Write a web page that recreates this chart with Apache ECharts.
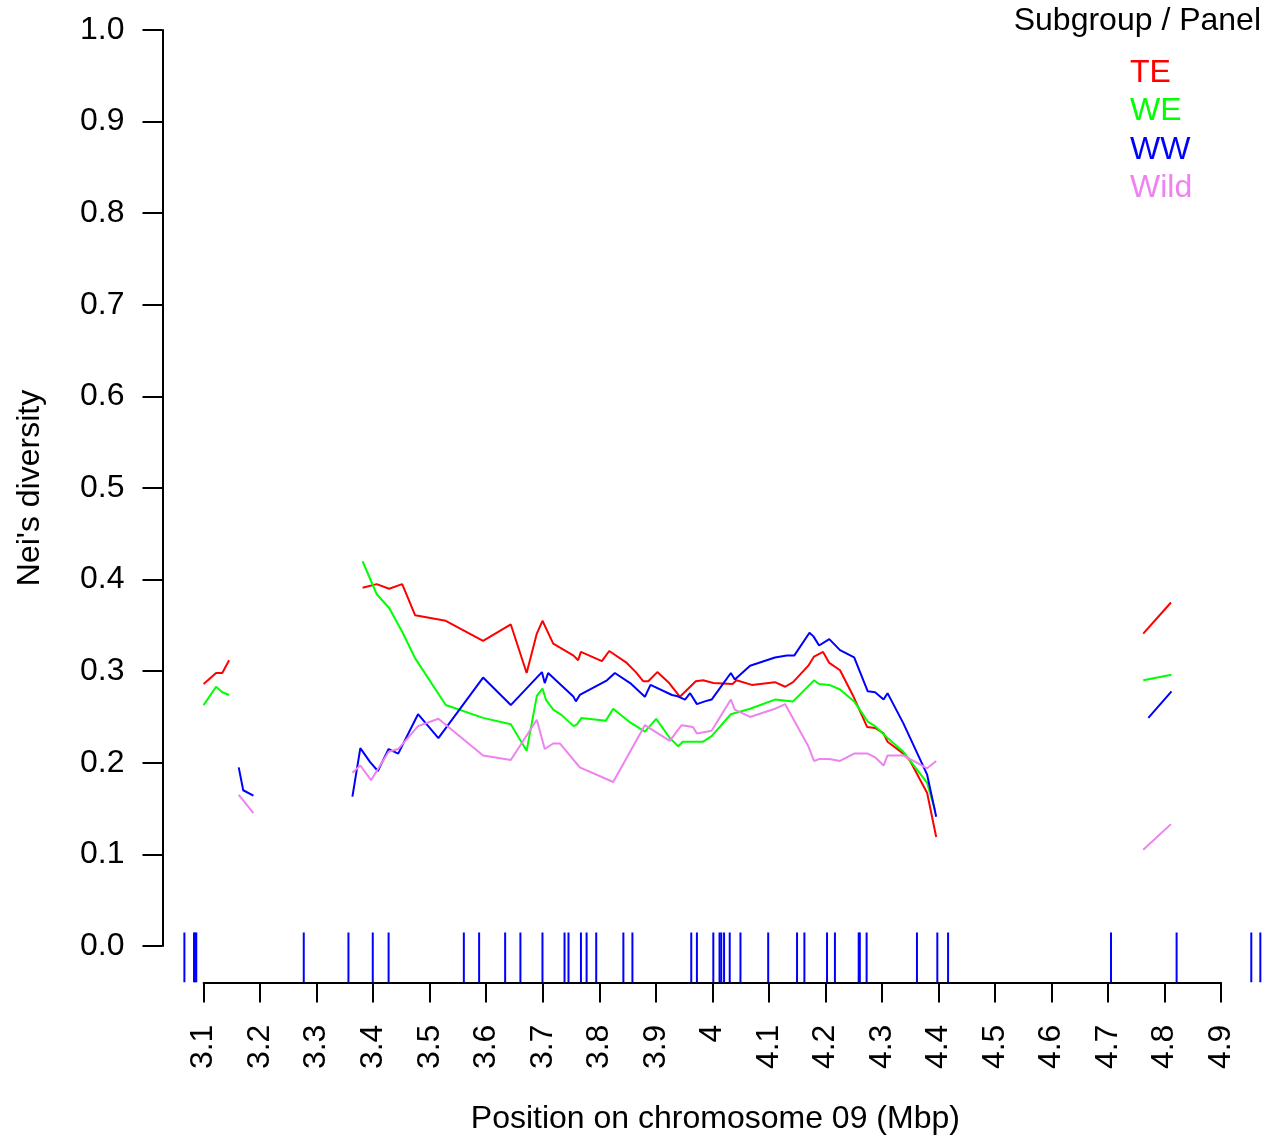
<!DOCTYPE html>
<html><head><meta charset="utf-8">
<script src="https://cdn.jsdelivr.net/npm/echarts@6/dist/echarts.min.js"></script>
<style>html,body{margin:0;padding:0;background:#fff}#c{width:1269px;height:1142px}</style>
</head><body><div id="c"></div>
<script>
// Positions (Mbp) and Nei's diversity per subgroup; null = gap
const teX = [3.100,3.122,3.133,3.145,null,
  3.381,3.406,3.428,3.451,3.474,3.528,3.594,3.643,3.671,3.689,3.699,3.718,3.754,3.762,3.767,3.804,3.817,3.848,3.864,3.877,3.886,3.902,3.923,3.942,3.970,3.983,4.001,4.035,4.042,4.069,4.110,4.128,4.142,4.169,4.179,4.195,4.206,4.225,4.249,4.273,4.287,4.302,4.309,4.337,4.349,4.379,4.395,
  null,4.761,4.810];
const teY = [0.286,0.298,0.298,0.312,null,
  0.391,0.395,0.390,0.395,0.361,0.355,0.333,0.351,0.298,0.341,0.355,0.330,0.317,0.312,0.321,0.311,0.322,0.309,0.299,0.289,0.289,0.299,0.287,0.272,0.289,0.290,0.287,0.286,0.290,0.285,0.288,0.283,0.288,0.306,0.316,0.321,0.309,0.301,0.272,0.239,0.238,0.232,0.223,0.210,0.202,0.167,0.119,
  null,0.341,0.375];

const weX = [3.100,3.122,3.133,3.145,null,
  3.381,3.406,3.428,3.451,3.474,3.528,3.594,3.643,3.671,3.689,3.699,3.705,3.718,3.733,3.754,3.760,3.768,3.811,3.824,3.854,3.880,3.900,3.924,3.939,3.947,3.983,3.998,4.032,4.066,4.110,4.142,4.179,4.188,4.206,4.225,4.250,4.274,4.287,4.309,4.337,4.379,4.393,
  null,4.761,4.811];
const weY = [0.263,0.283,0.277,0.274,null,
  0.420,0.384,0.369,0.343,0.314,0.263,0.249,0.242,0.213,0.273,0.281,0.269,0.258,0.252,0.240,0.242,0.249,0.246,0.259,0.244,0.234,0.248,0.227,0.218,0.223,0.223,0.229,0.253,0.259,0.269,0.267,0.290,0.286,0.285,0.280,0.267,0.245,0.240,0.227,0.212,0.178,0.148,
  null,0.290,0.296];

const wwX = [3.162,3.170,3.188,null,
  3.363,3.377,3.394,3.408,3.427,3.444,3.479,3.515,3.594,3.643,3.698,3.703,3.709,3.754,3.758,3.765,3.813,3.827,3.854,3.880,3.890,3.928,3.936,3.951,3.960,3.972,3.986,3.998,4.032,4.039,4.066,4.110,4.131,4.144,4.171,4.178,4.188,4.206,4.225,4.250,4.274,4.287,4.302,4.309,4.337,4.379,4.395,
  null,4.770,4.811];
const wwY = [0.195,0.170,0.164,null,
  0.163,0.216,0.201,0.191,0.215,0.210,0.253,0.227,0.293,0.263,0.299,0.287,0.298,0.272,0.267,0.274,0.290,0.298,0.287,0.272,0.285,0.274,0.273,0.269,0.276,0.264,0.267,0.269,0.298,0.291,0.306,0.315,0.317,0.317,0.342,0.338,0.328,0.335,0.323,0.315,0.278,0.277,0.269,0.276,0.243,0.187,0.141,
  null,0.249,0.278];

const wildX = [3.162,3.170,3.188,null,
  3.363,3.377,3.396,3.427,3.444,3.479,3.515,3.594,3.643,3.689,3.703,3.718,3.730,3.765,3.824,3.880,3.924,3.945,3.965,3.972,3.998,4.032,4.039,4.066,4.110,4.128,4.169,4.179,4.188,4.206,4.225,4.250,4.274,4.287,4.302,4.309,4.337,4.379,4.395,
  null,4.761,4.810];
const wildY = [0.165,0.159,0.145,null,
  0.189,0.197,0.181,0.212,0.215,0.240,0.248,0.208,0.203,0.247,0.215,0.221,0.221,0.195,0.179,0.241,0.224,0.241,0.239,0.232,0.235,0.269,0.258,0.250,0.259,0.264,0.218,0.202,0.204,0.204,0.202,0.210,0.210,0.206,0.197,0.208,0.208,0.194,0.202,
  null,0.105,0.133];

// Marker positions (rug)
const rugPos = [3.066,3.083,3.085,3.087,3.277,3.356,3.399,3.427,3.560,3.587,3.633,3.660,3.699,3.738,3.745,3.767,3.777,3.794,3.842,3.858,3.962,3.972,4.001,4.012,4.015,4.020,4.030,4.049,4.098,4.149,4.162,4.202,4.216,4.258,4.260,4.272,4.361,4.397,4.416,4.704,4.820,4.952,4.968];

const subgroups = ['TE','WE','WW','Wild'];
const colors = ['#ff0000','#00ff00','#0000ff','#ee82ee'];
const xs = [teX, weX, wwX, wildX];
const ys = [teY, weY, wwY, wildY];

const FONT = "'Liberation Sans', Arial, Helvetica, sans-serif";
const FS = 32;

const pairs = (a, b) => a.map((v, i) => [v, b[i]]);

const lineSeries = subgroups.map((name, k) => ({
  name, type: 'line', xAxisIndex: 0, yAxisIndex: 0,
  data: pairs(xs[k], ys[k]),
  showSymbol: false, symbol: 'none', connectNulls: false,
  lineStyle: { color: colors[k], width: 2 },
  itemStyle: { color: colors[k] },
  emphasis: { disabled: true }, clip: true
}));

const rugSeries = {
  type: 'custom', xAxisIndex: 0, yAxisIndex: 0,
  data: rugPos.map(p => [p]),
  encode: { x: 0 },
  clip: true,
  renderItem: (params, api) => {
    const base = api.coord([api.value(0), -0.04]);
    return { type: 'line',
      shape: { x1: base[0], y1: base[1], x2: base[0], y2: base[1] - 50 },
      style: { stroke: '#0000ff', lineWidth: 2 } };
  }
};

const chart = echarts.init(document.getElementById('c'));
chart.setOption({
  animation: false,
  backgroundColor: '#ffffff',
  textStyle: { fontFamily: FONT },
  title: { text: 'Subgroup / Panel', right: 8, top: 5, padding: 0,
    textStyle: { fontSize: FS, fontWeight: 'normal', color: '#000', fontFamily: FONT, lineHeight: 32 } },
  legend: {
    orient: 'vertical', left: 1120, top: 52, itemGap: 6.4,
    icon: 'none', itemWidth: 0, itemHeight: 14, selectedMode: false,
    textStyle: { fontSize: FS, fontFamily: FONT, lineHeight: 32 },
    data: subgroups.map((n, k) => ({ name: n, textStyle: { color: colors[k] } }))
  },
  grid: [
    { left: 162.9, right: 6.4, top: 30, bottom: 159.4 },
    { left: 162.5, width: 100, top: 30, bottom: 196 },
    { left: 203.6, right: 47.9, top: 30, bottom: 159.4 }
  ],
  xAxis: [
    { gridIndex: 0, type: 'value', min: 3.028, max: 4.972, show: false },
    { gridIndex: 1, type: 'value', min: 0, max: 1, show: false },
    { gridIndex: 2, type: 'value', min: 3.1, max: 4.9, interval: 0.1,
      axisLine: { show: true, onZero: false, lineStyle: { color: '#000', width: 2 } },
      axisTick: { show: true, length: 20, lineStyle: { color: '#000', width: 2 } },
      axisLabel: { rotate: 90, margin: 42, fontSize: FS, color: '#000', fontFamily: FONT,
        formatter: v => String(Math.round(v * 10) / 10) },
      splitLine: { show: false },
      name: 'Position on chromosome 09 (Mbp)', nameLocation: 'middle', nameGap: 121,
      nameTextStyle: { fontSize: FS, color: '#000', fontFamily: FONT, padding: [0, 0, 0, 6] } }
  ],
  yAxis: [
    { gridIndex: 0, type: 'value', min: -0.04, max: 1.0, show: false },
    { gridIndex: 1, type: 'value', min: 0, max: 1, interval: 0.1,
      axisLine: { show: true, lineStyle: { color: '#000', width: 2 } },
      axisTick: { show: true, length: 20, lineStyle: { color: '#000', width: 2 } },
      axisLabel: { margin: 38, fontSize: FS, color: '#000', fontFamily: FONT,
        formatter: v => v.toFixed(1) },
      splitLine: { show: false },
      name: "Nei's diversity", nameLocation: 'middle', nameGap: 116,
      nameTextStyle: { fontSize: FS, color: '#000', fontFamily: FONT } },
    { gridIndex: 2, type: 'value', min: 0, max: 1, show: false }
  ],
  series: [rugSeries, ...lineSeries]
});
</script>
</body></html>
